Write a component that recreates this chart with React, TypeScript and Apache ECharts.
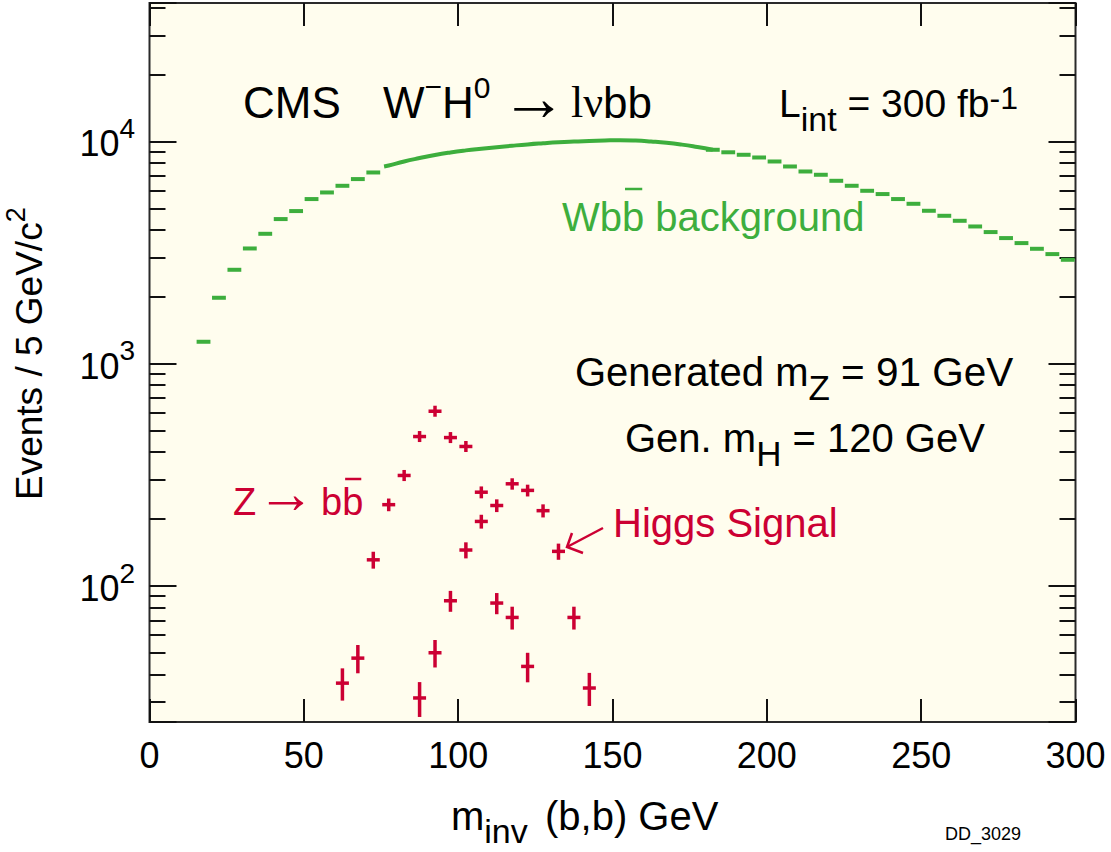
import React, { useEffect, useRef } from "react";
import * as echarts from "echarts";

const GREEN = "#3dae3d";
const RED = "#cc0033";
const INK = "#111111";
const SANS = '"Liberation Sans", Arial, Helvetica, sans-serif';
const SERIF = '"Liberation Serif", "Times New Roman", serif';

// Wbb background, 5 GeV bins (bin centres), low-mass side drawn as steps
const bgLowMass = [17.5, 22.5, 27.5, 32.5, 37.5, 42.5, 47.5, 52.5, 57.5, 62.5, 67.5, 72.5];
const bgLowEvents = [1255, 1980, 2646, 3300, 3842, 4475, 4862, 5506, 5896, 6318, 6773, 7253];

// Wbb background, high-mass side drawn as steps
const bgHighMass = [
  182.5, 187.5, 192.5, 197.5, 202.5, 207.5, 212.5, 217.5, 222.5, 227.5, 232.5, 237.5,
  242.5, 247.5, 252.5, 257.5, 262.5, 267.5, 272.5, 277.5, 282.5, 287.5, 292.5, 297.5,
];
const bgHighEvents = [
  9176, 8941, 8713, 8472, 8128, 7718, 7328, 7083, 6654, 6319, 5999, 5799,
  5506, 5243, 4877, 4630, 4396, 4145, 3911, 3675, 3489, 3289, 3113, 2935,
];

// Smooth central part of the background
const bgFitMass = [
  76, 77.5, 82.5, 87.5, 92.5, 97.5, 102.5, 107.5, 112.5, 117.5, 122.5, 127.5, 132.5,
  137.5, 142.5, 147.5, 152.5, 157.5, 162.5, 167.5, 172.5, 177.5, 182.5,
];
const bgFitEvents = [
  7720, 7800, 8130, 8420, 8700, 8930, 9120, 9280, 9430, 9570, 9700, 9810, 9910,
  9990, 10060, 10110, 10140, 10100, 10000, 9870, 9680, 9440, 9180,
];

// Z -> bb signal
const zMass = [62.5, 67.5, 72.5, 77.5, 82.5, 87.5, 92.5, 97.5, 102.5, 107.5, 112.5, 117.5, 122.5];
const zEvents = [36.5, 47.3, 131, 232, 314, 470, 611, 465, 424, 264, 83.7, 72.1, 43.4];

// Higgs signal
const hMass = [87.5, 92.5, 97.5, 102.5, 107.5, 112.5, 117.5, 122.5, 127.5, 132.5, 137.5, 142.5];
const hEvents = [31.3, 50.0, 85.7, 145, 195, 230, 288, 269, 218, 143, 72.1, 34.7];

// Axis ranges and tick labels
const X_MIN = 0;
const X_MAX = 300;
const X_STEP = 50;
const Y_MIN = 24.4;
const Y_MAX = 42000;
const yTickValues = [100, 1000, 10000];
const yTickExponents = ["2", "3", "4"];

const pairs = (xs: number[], ys: number[]) => xs.map((x, i) => [x, ys[i]]);

type Part = { t: string; f: number; dy?: number; fam?: string; bar?: number; at?: number };

const measurer = document.createElement("canvas").getContext("2d") as CanvasRenderingContext2D;
function widthOf(t: string, f: number, fam: string) {
  measurer.font = `${f}px ${fam}`;
  return measurer.measureText(t).width;
}

// Lays out a line of text pieces (sub/superscripts, overbars) from x0 on baseline `base`.
function runs(x0: number, base: number, color: string, parts: Part[]) {
  const out: any[] = [];
  let x = x0;
  parts.forEach((p) => {
    const fam = p.fam || SANS;
    if (p.at !== undefined) x = p.at;
    const lead = p.t.length - p.t.trimStart().length;
    const body = p.t.trim();
    const bx = x + widthOf(p.t.slice(0, lead), p.f, fam);
    const bw = widthOf(body, p.f, fam);
    const b = base + (p.dy || 0);
    out.push({
      type: "text",
      x: bx,
      y: b - 0.35 * p.f,
      silent: true,
      style: { text: body, font: `${p.f}px ${fam}`, fill: color, align: "left", verticalAlign: "middle" },
    });
    if (p.bar !== undefined) {
      out.push({
        type: "line",
        silent: true,
        shape: { x1: bx + 3, y1: b - p.bar, x2: bx + bw - 2, y2: b - p.bar },
        style: { stroke: color, lineWidth: 2.5 },
      });
    }
    x += widthOf(p.t, p.f, fam);
  });
  return out;
}

function runsWidth(parts: Part[]) {
  return parts.reduce((s, p) => s + widthOf(p.t, p.f, p.fam || SANS), 0);
}

function renderStep(_params: any, api: any) {
  const x = api.value(0);
  const y = api.value(1);
  const a = api.coord([x - 2.5, y]);
  const b = api.coord([x + 2.5, y]);
  return {
    type: "line",
    shape: { x1: a[0] + 0.8, y1: a[1], x2: b[0] - 0.8, y2: b[1] },
    style: { stroke: GREEN, lineWidth: 4 },
  };
}

function renderCross(_params: any, api: any) {
  const x = api.value(0);
  const n = api.value(1);
  const c = api.coord([x, n]);
  const err = Math.sqrt(n);
  const top = Math.min(api.coord([x, n + err])[1], c[1] - 5.5);
  const bot = Math.max(api.coord([x, n - err])[1], c[1] + 5.5);
  return {
    type: "group",
    children: [
      { type: "line", shape: { x1: c[0] - 6.5, y1: c[1], x2: c[0] + 6.5, y2: c[1] }, style: { stroke: RED, lineWidth: 3.5 } },
      { type: "line", shape: { x1: c[0], y1: top, x2: c[0], y2: bot }, style: { stroke: RED, lineWidth: 3.5 } },
    ],
  };
}

export default function App() {
  const ref = useRef<HTMLDivElement>(null);

  useEffect(() => {
    if (!ref.current) return;
    const chart = echarts.init(ref.current, undefined, { renderer: "svg" });

    const tickStyle = { color: INK, width: 2 };
    const xBase = {
      type: "value",
      min: X_MIN,
      max: X_MAX,
      interval: X_STEP,
      splitLine: { show: false },
      axisLine: { show: false, onZero: false },
      axisTick: { show: true, inside: true, length: 23, lineStyle: tickStyle },
    };
    const yBase = {
      type: "log",
      logBase: 10,
      min: Y_MIN,
      max: Y_MAX,
      splitLine: { show: false },
      axisLine: { show: false, onZero: false },
      axisLabel: { show: false },
      axisTick: { show: true, inside: true, length: 27, lineStyle: tickStyle },
      minorTick: { show: true, splitNumber: 9, length: 16, lineStyle: tickStyle },
    };

    chart.setOption({
      animation: false,
      backgroundColor: "#ffffff",
      grid: {
        left: 149.5,
        right: 35.5,
        top: 3,
        bottom: 130,
        show: true,
        backgroundColor: "#fffdee",
        borderColor: "#2a2a2a",
        borderWidth: 2,
      },
      xAxis: [
        {
          ...xBase,
          position: "bottom",
          axisLabel: { show: true, margin: 15, fontSize: 36, fontFamily: SANS, color: "#000" },
        },
        { ...xBase, position: "top", axisLabel: { show: false } },
      ],
      yAxis: [
        { ...yBase, position: "left" },
        { ...yBase, position: "right" },
      ],
      series: [
        { name: "Wbb background low", type: "custom", renderItem: renderStep, data: pairs(bgLowMass, bgLowEvents), clip: false },
        { name: "Wbb background high", type: "custom", renderItem: renderStep, data: pairs(bgHighMass, bgHighEvents), clip: false },
        {
          name: "Wbb background fit",
          type: "line",
          smooth: true,
          showSymbol: false,
          symbol: "none",
          data: pairs(bgFitMass, bgFitEvents),
          lineStyle: { color: GREEN, width: 4 },
        },
        { name: "Z -> bb", type: "custom", renderItem: renderCross, data: pairs(zMass, zEvents), clip: false },
        { name: "Higgs signal", type: "custom", renderItem: renderCross, data: pairs(hMass, hEvents), clip: false },
      ],
    });

    // Power-of-ten labels on the left axis, placed at the axis' own tick positions
    const yLabels: any[] = [];
    yTickValues.forEach((v, i) => {
      const py = chart.convertToPixel({ yAxisIndex: 0 }, v) as number;
      const parts: Part[] = [
        { t: "10", f: 36 },
        { t: yTickExponents[i], f: 28, dy: -18 },
      ];
      yLabels.push(...runs(135 - runsWidth(parts), py + 15, "#000", parts));
    });

    const graphics: any[] = [
      ...yLabels,
      ...runs(243, 118, "#000", [{ t: "CMS", f: 44 }]),
      ...runs(383, 118, "#000", [
        { t: "W", f: 44 },
        { t: "−", f: 30, dy: -21 },
        { t: "H", f: 44 },
        { t: "0", f: 30, dy: -20 },
        { t: "→", f: 66, dy: 2, at: 501 },
        { t: "lν", f: 44, fam: SERIF, at: 571 },
        { t: "bb", f: 44 },
      ]),
      ...runs(779, 117, "#000", [
        { t: "L", f: 39 },
        { t: "int", f: 34, dy: 14 },
        { t: " = 300 fb", f: 39 },
        { t: "-1", f: 32, dy: -8 },
      ]),
      ...runs(562, 231, GREEN, [
        { t: "Wb", f: 40 },
        { t: "b", f: 40, bar: 42 },
        { t: " background", f: 40 },
      ]),
      ...runs(575, 386, "#000", [
        { t: "Generated m", f: 40 },
        { t: "Z", f: 35, dy: 14 },
        { t: " = 91 GeV", f: 40.5 },
      ]),
      ...runs(625, 452, "#000", [
        { t: "Gen. m", f: 40 },
        { t: "H", f: 35, dy: 14 },
        { t: " = 120 GeV", f: 40 },
      ]),
      ...runs(233, 515, RED, [
        { t: "Z", f: 38 },
        { t: "→", f: 58, dy: -2, at: 257 },
        { t: "b", f: 38, at: 321 },
        { t: "b", f: 38, bar: 36 },
      ]),
      ...runs(613, 537, RED, [{ t: "Higgs Signal", f: 40 }]),
      { type: "polyline", silent: true, shape: { points: [[603, 528], [567, 547]] }, style: { stroke: RED, lineWidth: 2.5, fill: "none" } },
      { type: "polyline", silent: true, shape: { points: [[583, 553], [567, 547], [572, 533]] }, style: { stroke: RED, lineWidth: 2.5, fill: "none" } },
      ...runs(451, 830, "#000", [
        { t: "m", f: 40 },
        { t: "inv", f: 34, dy: 13 },
        { t: "(b,b) GeV", f: 40, at: 545 },
      ]),
      {
        type: "group",
        x: 42,
        y: 500,
        rotation: Math.PI / 2,
        children: runs(0, 0, "#000", [
          { t: "Events / 5 GeV/c", f: 37 },
          { t: "2", f: 27, dy: -17 },
        ]),
      },
      ...runs(945, 840, "#000", [{ t: "DD_3029", f: 18 }]),
    ];

    chart.setOption({ graphic: graphics });

    return () => chart.dispose();
  }, []);

  return (
    <div ref={ref} style={{ position: "fixed", left: 0, top: 0, width: 1111, height: 852, background: "#fff" }} />
  );
}
